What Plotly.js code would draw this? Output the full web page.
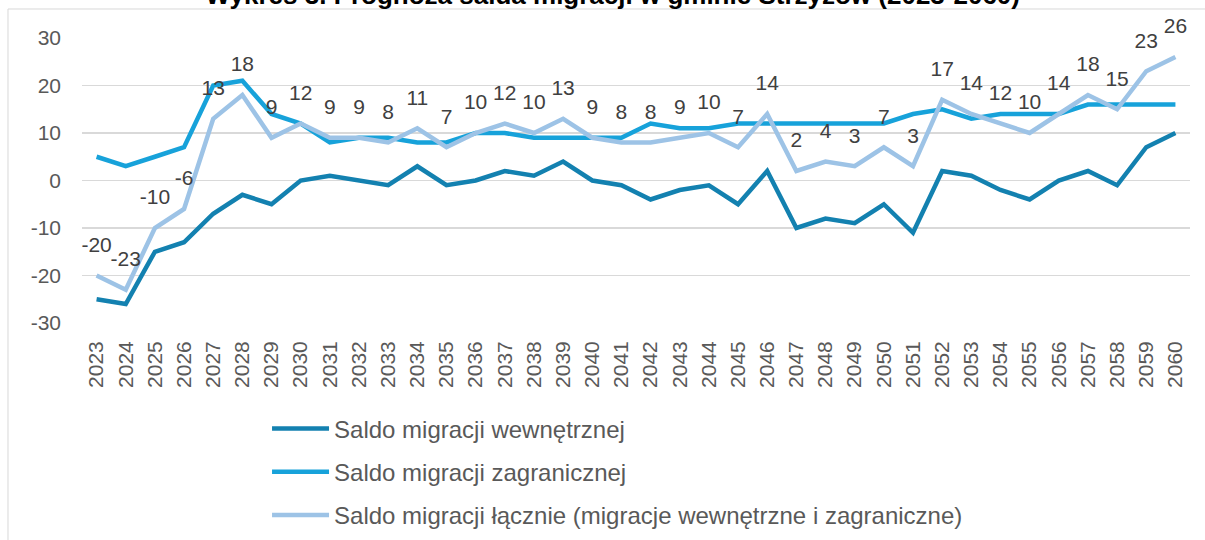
<!DOCTYPE html>
<html>
<head>
<meta charset="utf-8">
<script src="https://cdn.plot.ly/plotly-3.0.1.min.js"></script>
<style>html,body{margin:0;padding:0;background:#fff;}#chart{width:1205px;height:540px;}</style>
</head>
<body>
<div id="chart"></div>
<script>
const years = ["2023","2024","2025","2026","2027","2028","2029","2030","2031","2032","2033","2034","2035","2036","2037","2038","2039","2040","2041","2042","2043","2044","2045","2046","2047","2048","2049","2050","2051","2052","2053","2054","2055","2056","2057","2058","2059","2060"];
const internalBalance = [-25,-26,-15,-13,-7,-3,-5,0,1,0,-1,3,-1,0,2,1,4,0,-1,-4,-2,-1,-5,2,-10,-8,-9,-5,-11,2,1,-2,-4,0,2,-1,7,10];
const foreignBalance = [5,3,5,7,20,21,14,12,8,9,9,8,8,10,10,9,9,9,9,12,11,11,12,12,12,12,12,12,14,15,13,14,14,14,16,16,16,16];
const totalBalance = [-20,-23,-10,-6,13,18,9,12,9,9,8,11,7,10,12,10,13,9,8,8,9,10,7,14,2,4,3,7,3,17,14,12,10,14,18,15,23,26];
const yTickValues = [-30,-20,-10,0,10,20,30];
const yTickLabels = ["-30","-20","-10","0","10","20","30"];
const seriesNames = ["Saldo migracji wewnętrznej","Saldo migracji zagranicznej","Saldo migracji łącznie (migracje wewnętrzne i zagraniczne)"];
const titleText = "Wykres 3. Prognoza salda migracji w gminie Strzyżów (2023-2060)";

const FONT = "Liberation Sans, Arial, sans-serif";
const traces = [
  {x: years, y: internalBalance, name: seriesNames[0], type: "scatter", mode: "lines",
   line: {color: "#1381B0", width: 4.5}, legendgroup: "g1", hoverinfo: "skip"},
  {x: years, y: foreignBalance, name: seriesNames[1], type: "scatter", mode: "lines",
   line: {color: "#17A2DA", width: 4.5}, legendgroup: "g2", hoverinfo: "skip"},
  {x: years, y: totalBalance, name: seriesNames[2], type: "scatter", mode: "lines+markers+text",
   line: {color: "#9DC3E6", width: 4.5}, marker: {size: 28, color: "rgba(0,0,0,0)"},
   text: totalBalance.map(String), textposition: "top center", cliponaxis: false,
   textfont: {family: FONT, size: 21, color: "#404040"},
   legendgroup: "g3", hoverinfo: "skip"}
];

const layout = {
  width: 1205, height: 540,
  margin: {l: 82, r: 15, t: 38, b: 217, autoexpand: false},
  paper_bgcolor: "#ffffff", plot_bgcolor: "#ffffff",
  font: {family: FONT, color: "#595959", size: 21},
  title: {text: "<b>" + titleText + "</b>", font: {family: FONT, size: 26, color: "#000000"},
          x: 0.479, xanchor: "center", xref: "paper", y: 1, yref: "paper", yanchor: "bottom",
          pad: {b: 34}},
  xaxis: {type: "category", range: [-0.5, 37.5], tickangle: -90, showgrid: false, zeroline: false,
          showline: false, ticks: "", ticklabelstandoff: 13,
          tickfont: {family: FONT, size: 21, color: "#595959"}, fixedrange: true},
  yaxis: {range: [-30, 30], tickmode: "array", tickvals: yTickValues, ticktext: yTickLabels,
          showgrid: true, gridcolor: "#d9d9d9", gridwidth: 1.3,
          zeroline: false, showline: false, ticks: "", ticklabelstandoff: 20,
          tickfont: {family: FONT, size: 21, color: "#595959"}, fixedrange: true},
  showlegend: true,
  legend: {x: 0.167, y: -0.293, xanchor: "left", yanchor: "top", orientation: "v",
           itemwidth: 57,
           font: {family: FONT, size: 24, color: "#595959"}, tracegroupgap: 9,
           bgcolor: "rgba(0,0,0,0)"},
  shapes: [{type: "rect", xref: "paper", yref: "paper", x0: -0.0668, x1: 1.2, y0: -1.2, y1: 1.1018,
            line: {color: "#d9d9d9", width: 1}, fillcolor: "rgba(0,0,0,0)", layer: "below"}]
};

Plotly.newPlot("chart", traces, layout, {displayModeBar: false, staticPlot: true});
</script>
</body>
</html>
